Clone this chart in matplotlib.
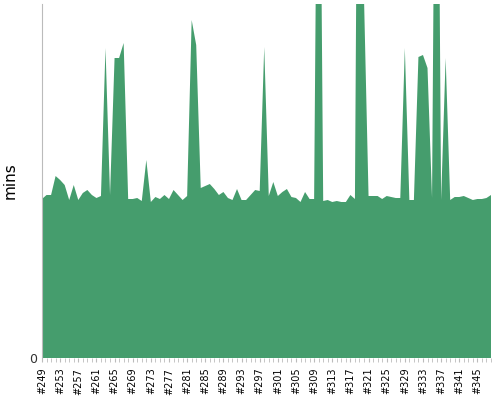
import numpy as np
import matplotlib
matplotlib.use("Agg")
import matplotlib.pyplot as plt

builds = list(range(249, 349))
mins = [15.9, 16.3, 16.3, 18.2, 17.8, 17.3, 15.8, 17.3, 15.8, 16.5,
        16.8, 16.3, 16.0, 16.2, 31.0, 16.3, 30.0, 30.0, 31.5, 15.9,
        15.9, 16.0, 15.7, 19.8, 15.6, 16.1, 15.9, 16.3, 15.9, 16.8,
        16.3, 15.8, 16.2, 33.8, 31.3, 17.0, 17.2, 17.4, 16.9, 16.3,
        16.6, 16.0, 15.8, 16.9, 15.8, 15.8, 16.3, 16.8, 16.7, 31.1,
        16.2, 17.6, 16.2, 16.6, 16.9, 16.1, 16.0, 15.6, 16.6, 15.9,
        15.9, 74.0, 15.7, 15.8, 15.6, 15.7, 15.6, 15.6, 16.3, 15.9,
        90.0, 36.0, 16.2, 16.2, 16.2, 15.9, 16.2, 16.1, 16.0, 16.0,
        31.0, 15.8, 15.8, 30.1, 30.3, 29.0, 16.0, 80.0, 15.8, 30.0,
        15.8, 16.1, 16.1, 16.2, 16.0, 15.8, 15.9, 15.9, 16.0, 16.3]

x = np.arange(len(builds))
fig = plt.figure(figsize=(5, 4), dpi=100)
ax = fig.add_axes([0.084, 0.105, 0.898, 0.885])
ax.fill_between(x, 0, mins, color="#459d6d", linewidth=0)
ax.set_xlim(0, len(builds) - 1)
ax.set_ylim(0, 35.4)
ax.set_yticks([0])
ax.set_ylabel("mins", fontsize=11, labelpad=8)
ax.set_xticks(x[::4])
ax.set_xticklabels(["#%d" % b for b in builds[::4]], rotation=90, fontsize=7)
ax.set_xticks(x, minor=True)
ax.tick_params(axis="x", which="both", length=3, color="#bbbbbb", pad=4)
ax.tick_params(axis="y", length=0, labelsize=9, labelcolor="#333333")
for s in ["top", "right", "bottom"]:
    ax.spines[s].set_visible(False)
ax.spines["left"].set_color("#bbbbbb")
fig.savefig("out.png")
